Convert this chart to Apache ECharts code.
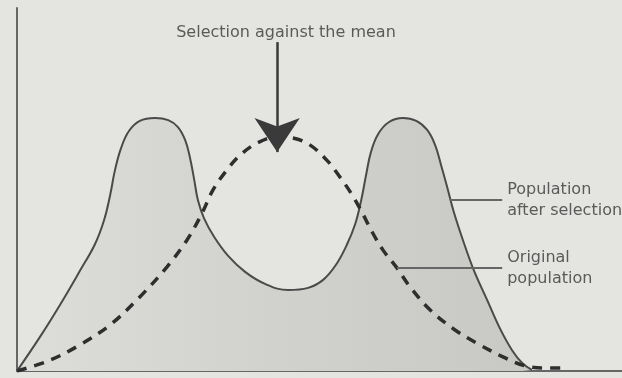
<!DOCTYPE html>
<html>
<head>
<meta charset="utf-8">
<script src="https://cdn.jsdelivr.net/npm/echarts@6/dist/echarts.min.js"></script>
<style>
html,body{margin:0;padding:0;background:#e4e5e0;}
#chart{width:622px;height:378px;}
</style>
</head>
<body>
<div id="chart"></div>
<script>
// Trait value (0-100) vs. number of individuals (0-100)
var afterX = [0, 3.8, 7.1, 10.4, 12.9, 14.4, 15.4, 16.2, 17.2, 18.5, 20.3, 22.8, 25.0, 26.6, 27.8, 28.6, 29.3, 29.9, 30.9, 32.6, 34.9, 37.7, 41.0, 44.8, 48.1, 50.6, 52.7, 54.5, 55.9, 56.9, 57.7, 58.5, 59.7, 61.5, 63.8, 66.0, 67.8, 69.1, 70.1, 71.1, 72.2, 73.7, 75.5, 77.7, 79.8, 81.8, 83.5, 85.1];
var afterY = [0, 9.4, 18.2, 27.6, 35.0, 41.6, 48.5, 55.4, 61.4, 66.1, 68.9, 69.7, 69.1, 67.2, 63.6, 58.7, 52.6, 47.1, 42.1, 36.9, 31.7, 27.3, 24.0, 22.3, 22.9, 25.1, 29.2, 34.7, 40.5, 47.1, 54.0, 60.3, 65.3, 68.6, 69.7, 68.9, 66.4, 62.3, 56.7, 50.7, 43.8, 36.1, 27.8, 19.6, 11.8, 5.8, 2.2, 0.3];
var origX = [0, 5.5, 10.4, 15.4, 20.3, 24.8, 28.1, 30.6, 32.4, 34.7, 36.9, 39.7, 43.0, 45.6, 48.4, 51.2, 53.4, 55.4, 57.0, 58.7, 60.5, 62.8, 65.0, 68.3, 72.4, 76.5, 80.7, 84.0, 87.3, 89.8];
var origY = [0, 3.0, 7.2, 12.7, 20.4, 28.7, 36.1, 43.5, 49.9, 55.4, 59.5, 62.8, 64.5, 64.2, 62.3, 58.1, 53.4, 48.5, 43.8, 38.3, 33.3, 28.4, 23.1, 16.8, 11.3, 7.2, 3.6, 1.4, 0.8, 0.8];

var titleText = 'Selection against the mean';
var afterLabel = 'Population\nafter selection';
var origLabel = 'Original\npopulation';

function pairs(xs, ys) { return xs.map(function (x, i) { return [x, ys[i]]; }); }

// arrow points at the peak of the original population
var peakIdx = origY.indexOf(Math.max.apply(null, origY));
var arrowX = origX[peakIdx];
var arrowTop = 90.6, arrowTip = origY[peakIdx] - 4.2;

var chart = echarts.init(document.getElementById('chart'));
chart.setOption({
  backgroundColor: '#e4e5e0',
  animation: false,
  title: {
    text: titleText, left: 281, top: 20, textAlign: 'center',
    textStyle: { fontFamily: 'DejaVu Sans', fontSize: 16, fontWeight: 'normal', color: '#5a5a5a' }
  },
  grid: { left: 17, right: 0, top: 8, bottom: 7 },
  xAxis: {
    type: 'value', min: 0, max: 100,
    axisLine: { show: true, lineStyle: { color: '#666', width: 2 } },
    axisTick: { show: false }, axisLabel: { show: false }, splitLine: { show: false }
  },
  yAxis: {
    type: 'value', min: 0, max: 100,
    axisLine: { show: true, lineStyle: { color: '#666', width: 2 } },
    axisTick: { show: false }, axisLabel: { show: false }, splitLine: { show: false }
  },
  series: [
    {
      type: 'line', name: 'after', data: pairs(afterX, afterY), smooth: 0.4,
      showSymbol: false, z: 2,
      lineStyle: { color: '#4a4a4a', width: 2 },
      areaStyle: {
        color: new echarts.graphic.LinearGradient(0, 0, 1, 0, [
          { offset: 0, color: '#dddeda' },
          { offset: 0.5, color: '#d1d2cd' },
          { offset: 1, color: '#c8c9c4' }
        ]), opacity: 1
      },
      markLine: {
        silent: true, symbol: ['none', 'none'],
        lineStyle: { color: '#666', width: 2, type: 'solid' },
        label: {
          show: true, position: 'end', distance: 5, align: 'left', verticalAlign: 'middle',
          fontFamily: 'DejaVu Sans', fontSize: 16, color: '#5a5a5a', lineHeight: 21,
          formatter: function (p) { return p.data.name; }
        },
        data: [
          [{ coord: [71.6, 47.1], name: afterLabel }, { coord: [80.2, 47.1] }],
          [{ coord: [62.8, 28.4], name: origLabel }, { coord: [80.2, 28.4] }]
        ]
      }
    },
    {
      type: 'line', name: 'original', data: pairs(origX, origY), smooth: 0.35,
      showSymbol: false, z: 3,
      lineStyle: { color: '#2e2e2e', width: 3.5, type: [10, 8], cap: 'butt' },
      markLine: {
        silent: true, symbol: ['none', 'arrow'], symbolSize: 34,
        lineStyle: { color: '#3a3a3a', width: 2.5, type: 'solid' },
        label: { show: false },
        data: [[{ coord: [arrowX, arrowTop] }, { coord: [arrowX, arrowTip] }]]
      }
    }
  ]
});
</script>
</body>
</html>
